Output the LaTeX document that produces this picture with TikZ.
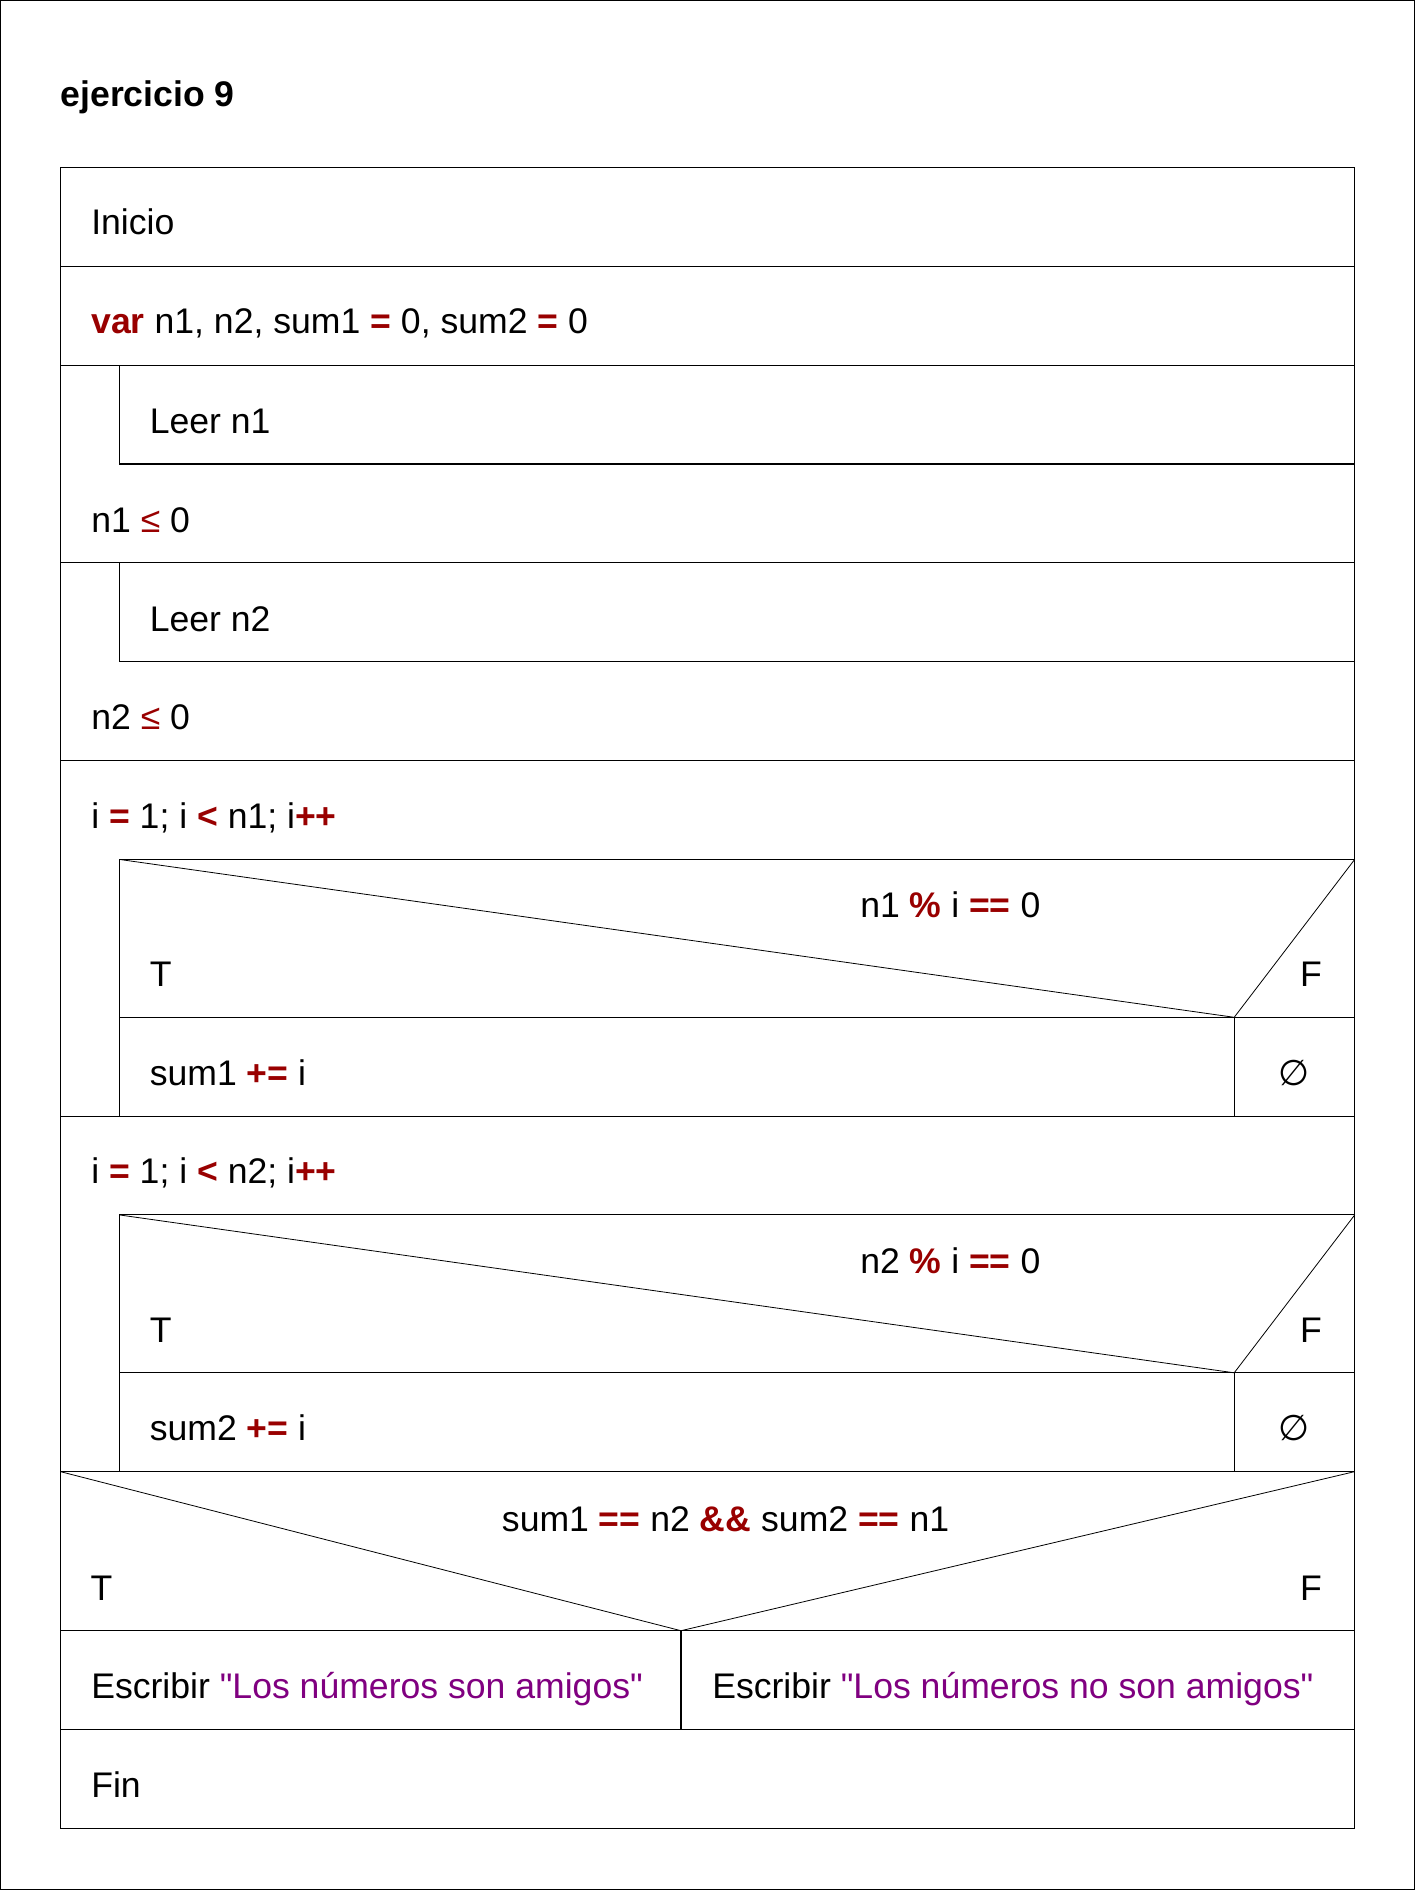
\documentclass[tikz,border=0pt]{standalone}
\usepackage{fontspec}
\setmainfont{Liberation Sans}
\newfontfamily\symfont{DejaVu Sans}
\newfontfamily\qfont{Liberation Sans}
\definecolor{kw}{HTML}{990000}
\definecolor{str}{HTML}{800080}
\newcommand{\kwb}[1]{\textcolor{kw}{\textbf{#1}}}
\newcommand{\strc}[1]{\textcolor{str}{#1}}
\newcommand{\dq}{{\qfont\char34}}
\tikzset{
  txt/.style={anchor=base west, inner sep=0pt, font=\fontsize{26.7}{30}\selectfont},
  txtr/.style={anchor=base east, inner sep=0pt, font=\fontsize{26.7}{30}\selectfont},
  txtc/.style={anchor=base, inner sep=0pt, font=\fontsize{26.7}{30}\selectfont},
  ln/.style={draw=black, line width=0.8pt},
  diag/.style={draw=black, line width=0.6pt}
}
\begin{document}
\begin{tikzpicture}[x=0.75pt, y=-0.75pt]
\useasboundingbox (0,0) rectangle (1415,1890);
\fill[white] (0,0) rectangle (1415,1890);
\draw[ln] (0.6,0.6) rectangle (1414.4,1889.4);
% coordinates
\def\L{60.3}\def\R{1354.7}\def\I{119.3}\def\C{1234.2}\def\M{681}
% title
\node[txt, font=\fontsize{26.7}{30}\selectfont\bfseries] (title) at (60.3,107) {ejercicio 9};
% outer box
\draw[ln] (\L,167.5) rectangle (\R,1828.4);
% row separators (full width)
\foreach \y in {266.4,365.2,562.9,760.5,1116.1,1471.6,1630.7,1729.6}
  \draw[ln] (\L,\y) -- (\R,\y);
% repeat loop 1
\draw[ln] (\I,365.2) -- (\I,464.0) -- (\R,464.0);
% repeat loop 2
\draw[ln] (\I,562.9) -- (\I,661.7) -- (\R,661.7);
% for loop 1
\draw[ln] (\R,859.4) -- (\I,859.4) -- (\I,1116.1);
\draw[ln] (\I,1017.3) -- (\R,1017.3);
\draw[ln] (\C,1017.3) -- (\C,1116.1);
\draw[diag] (\I,859.4) -- (\C,1017.3) -- (\R,859.4);
% for loop 2
\draw[ln] (\R,1214.9) -- (\I,1214.9) -- (\I,1471.6);
\draw[ln] (\I,1372.8) -- (\R,1372.8);
\draw[ln] (\C,1372.8) -- (\C,1471.6);
\draw[diag] (\I,1214.9) -- (\C,1372.8) -- (\R,1214.9);
% final decision
\draw[diag] (\L,1471.6) -- (\M,1630.7) -- (\R,1471.6);
\draw[ln] (\M,1630.7) -- (\M,1729.6);
% texts
\node[txt] (inicio) at (91,235) {Inicio};
\node[txt] (var) at (91,334) {\kwb{var} n1, n2, sum1 \kwb{=} 0, sum2 \kwb{=} 0};
\node[txt] (leer1) at (149.5,433) {Leer n1};
\node[txt] (cond1) at (91,532) {n1 \textcolor{kw}{≤} 0};
\node[txt] (leer2) at (149.5,631) {Leer n2};
\node[txt] (cond2) at (91,729.5) {n2 \textcolor{kw}{≤} 0};
\node[txt] (for1) at (91,828.5) {i \kwb{=} 1; i \kwb{<} n1; i\kwb{++}};
\node[txt] (if1) at (860,917.7) {n1 \kwb{\%} i \kwb{==} 0};
\node[txt] (t1) at (149.5,986.7) {T};
\node[txtr] (f1) at (1322,986.7) {F};
\node[txt] (s1) at (149.5,1085.4) {sum1 \kwb{+=} i};
\node[txtc] (e1) at (1294,1085.4) {\symfont ∅};
\node[txt] (for2) at (91,1183.5) {i \kwb{=} 1; i \kwb{<} n2; i\kwb{++}};
\node[txt] (if2) at (860,1273) {n2 \kwb{\%} i \kwb{==} 0};
\node[txt] (t2) at (149.5,1342) {T};
\node[txtr] (f2) at (1322,1342) {F};
\node[txt] (s2) at (149.5,1440.5) {sum2 \kwb{+=} i};
\node[txtc] (e2) at (1294,1440.5) {\symfont ∅};
\node[txt] (if3) at (501.7,1531.7) {sum1 \kwb{==} n2 \kwb{\&\&} sum2 \kwb{==} n1};
\node[txt] (t3) at (90.4,1600.3) {T};
\node[txtr] (f3) at (1322,1600.3) {F};
\node[txt] (w1) at (91,1698.5) {Escribir \strc{\dq Los números son amigos\dq}};
\node[txt] (w2) at (712,1698.5) {Escribir \strc{\dq Los números no son amigos\dq}};
\node[txt] (fin) at (91,1797) {Fin};
\end{tikzpicture}
\end{document}
